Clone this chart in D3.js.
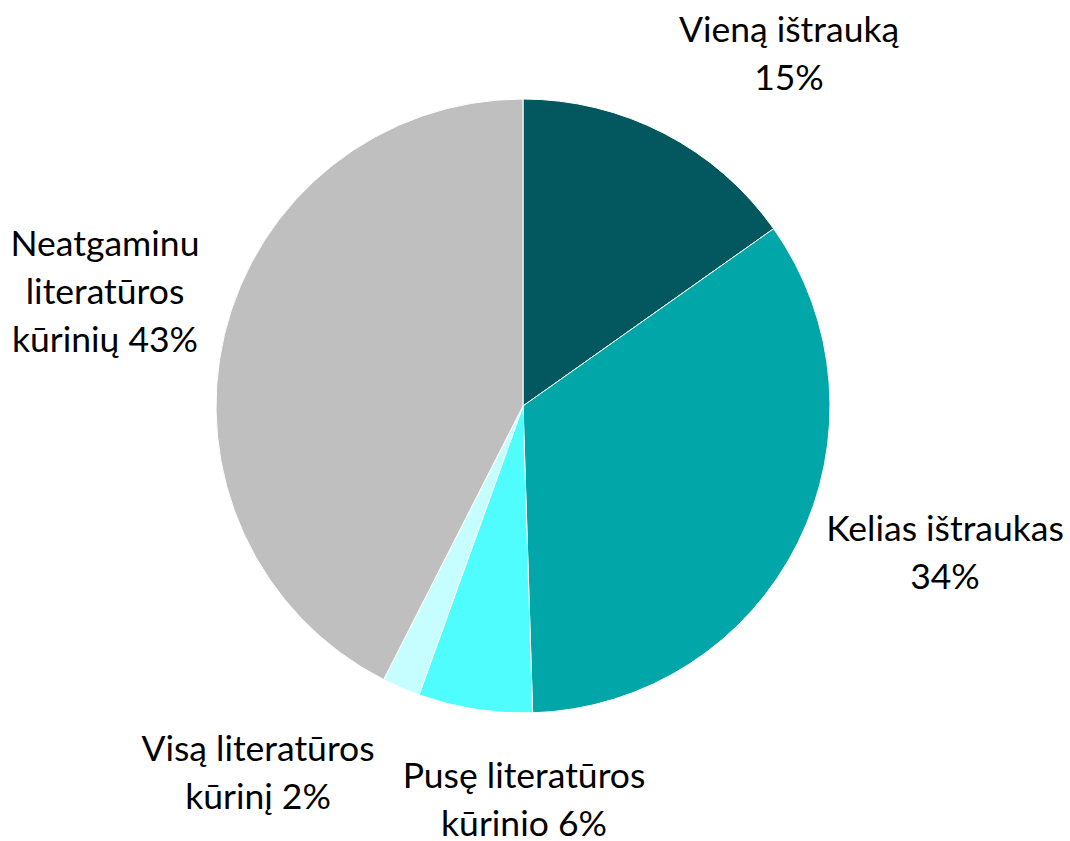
<!DOCTYPE html>
<html>
<head>
<meta charset="utf-8">
<script src="https://cdn.jsdelivr.net/npm/d3@7"></script>
<style>
  html, body { margin: 0; padding: 0; background: #fff; }
  text { font-family: Lato, "Open Sans", sans-serif; fill: #000; }
</style>
</head>
<body>
<svg id="chart"></svg>
<script>
// slices, clockwise from 12 o'clock
var labels = [
    ["Vieną ištrauką", "15%"],
    ["Kelias ištraukas", "34%"],
    ["Pusę literatūros", "kūrinio 6%"],
    ["Visą literatūros", "kūrinį 2%"],
    ["Neatgaminu", "literatūros", "kūrinių 43%"]
];
// shares (labels show them rounded)
var values = [15.2, 34.3, 6.0, 2.0, 42.5];
var colors = ["#02585e", "#00a6a8", "#4ffdff", "#c6fdff", "#bfbfbf"];

// where each label block is centred, relative to the pie centre
var labelPos = [[266, -352], [422, 147], [1, 394], [-265, 367], [-418, -114]];

var width = 1070, height = 841;
var cx = 523, cy = 406, radius = 307;
var lineH = 48;

var svg = d3.select("#chart")
    .attr("width", width)
    .attr("height", height);

var pie = d3.pie().sort(null).value(function(d) { return d; });
var arc = d3.arc().innerRadius(0).outerRadius(radius);

var g = svg.append("g").attr("transform", "translate(" + cx + "," + cy + ")");

g.selectAll("path")
    .data(pie(values))
    .enter().append("path")
    .attr("d", arc)
    .attr("fill", function(d, i) { return colors[i]; })
    .attr("stroke", "#fff")
    .attr("stroke-width", 1);

var lab = g.selectAll("text.lab")
    .data(labels)
    .enter().append("text")
    .attr("class", "lab")
    .attr("text-anchor", "middle")
    .attr("font-size", 35.5);

lab.selectAll("tspan")
    .data(function(d, i) {
        return d.map(function(s, j) { return { s: s, j: j, n: d.length, i: i }; });
    })
    .enter().append("tspan")
    .attr("x", function(d) { return labelPos[d.i][0]; })
    .attr("y", function(d) {
        return labelPos[d.i][1] + (d.j - (d.n - 1) / 2) * lineH;
    })
    .attr("dy", "0.35em")
    .text(function(d) { return d.s; });
</script>
</body>
</html>
